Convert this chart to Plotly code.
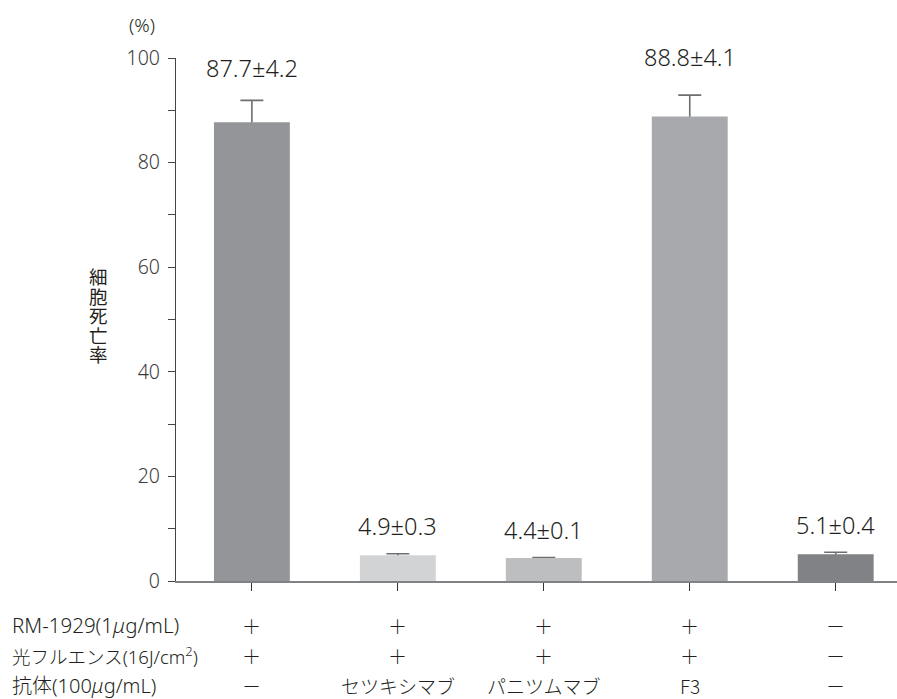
import plotly.graph_objects as go

# ---- data ----
groups = [0, 1, 2, 3, 4]
death_rate = [87.7, 4.9, 4.4, 88.8, 5.1]
death_sd = [4.2, 0.3, 0.1, 4.1, 0.4]
value_labels = ["87.7±4.2", "4.9±0.3", "4.4±0.1", "88.8±4.1", "5.1±0.4"]
label_y = [98.1, 10.5, 9.75, 100.2, 10.7]
bar_colors = ["#939598", "#d1d3d4", "#bcbec0", "#a7a9ac", "#808285"]

row_titles = ["RM-1929(1<i>μ</i>g/mL)", "光フルエンス(16J/cm<sup>2</sup>)", "抗体(100<i>μ</i>g/mL)"]
row_rm1929 = ["＋", "＋", "＋", "＋", "－"]
row_light = ["＋", "＋", "＋", "＋", "－"]
row_antibody = ["－", "セツキシマブ", "パニツムマブ", "F3", "－"]

y_title_chars = ["細", "胞", "死", "亡", "率"]
y_ticks = [0, 20, 40, 60, 80, 100]

FONT = "Noto Sans CJK JP, Noto Sans, sans-serif"
LFONT = "Noto Sans, Noto Sans CJK JP, sans-serif"
TXT = "#231f20"

W, H = 897, 699
ML, MR, MT, MB = 176, 0, 58, 118
PW = W - ML - MR
PH = H - MT - MB
Y_MAX = 100

def px_to_paper_y(py):
    return (H - MB - py) / PH

def px_to_paper_x(px):
    return (px - ML) / PW

fig = go.Figure()
# error-bar carrier (invisible bars), drawn first so the real bars hide the lower part
fig.add_trace(go.Bar(
    x=groups, y=death_rate, width=0.52,
    marker=dict(color="rgba(0,0,0,0)", line=dict(width=0)),
    error_y=dict(type="data", array=death_sd, arrayminus=[1.5] * len(death_sd),
                 symmetric=False, color="#6d6e71", thickness=1.6, width=11.5),
    hoverinfo="skip",
))
fig.add_trace(go.Bar(
    x=groups, y=death_rate, width=0.52,
    marker=dict(color=bar_colors, line=dict(width=0)),
    hoverinfo="skip",
))

ann = []
for g, lbl, ly in zip(groups, value_labels, label_y):
    ann.append(dict(x=g, y=ly / Y_MAX, xref="x", yref="paper", text=lbl, showarrow=False,
                    xanchor="center", yanchor="middle",
                    font=dict(family=LFONT, size=23.5, color=TXT, weight=300)))

rows = [row_rm1929, row_light, row_antibody]
row_py = [625, 655, 685]
row_title_sizes = [20.5, 18.5, 20]
for title, vals, py, ts in zip(row_titles, rows, row_py, row_title_sizes):
    yp = px_to_paper_y(py)
    ann.append(dict(x=px_to_paper_x(10), y=yp, xref="paper", yref="paper", text=title,
                    showarrow=False, xanchor="left", yanchor="middle",
                    font=dict(family=LFONT, size=ts, color=TXT, weight=300)))
    for g, v in zip(groups, vals):
        ann.append(dict(x=g, y=yp, xref="x", yref="paper", text=v, showarrow=False,
                        xanchor="center", yanchor="middle",
                        font=dict(family=FONT, size=19, color=TXT, weight=300)))

# unit label
ann.append(dict(x=px_to_paper_x(142), y=px_to_paper_y(25), xref="paper", yref="paper",
                text="(%)", showarrow=False, xanchor="center", yanchor="middle",
                font=dict(family=LFONT, size=19, color=TXT, weight=300)))

# vertical y-axis title
for i, ch in enumerate(y_title_chars):
    ann.append(dict(x=px_to_paper_x(98), y=px_to_paper_y(276 + 19.5 * i), xref="paper", yref="paper",
                    text=ch, showarrow=False, xanchor="center", yanchor="middle",
                    font=dict(family=FONT, size=18.5, color=TXT)))

fig.update_layout(
    width=W, height=H,
    margin=dict(l=ML, r=MR, t=MT, b=MB, pad=0),
    plot_bgcolor="white", paper_bgcolor="white",
    showlegend=False,
    barmode="overlay",
    annotations=ann,
    xaxis=dict(range=[-0.52, 4.42], tickvals=groups, showticklabels=False,
               showline=True, linecolor="#808285", linewidth=1.6,
               ticks="outside", ticklen=8, tickcolor="#333333", tickwidth=1,
               showgrid=False, zeroline=False, fixedrange=True),
    yaxis=dict(range=[0, Y_MAX], tickvals=y_ticks, showline=True, linecolor="#444444",
               linewidth=1.2, ticks="outside", ticklen=7, tickcolor="#444444", tickwidth=1,
               ticklabelstandoff=4,
               minor=dict(dtick=10, tick0=0, ticks="outside", ticklen=7, tickcolor="#444444", tickwidth=1),
               tickfont=dict(family=LFONT, size=19.5, color="#3a3a3a", weight=300),
               showgrid=False, zeroline=False, fixedrange=True),
)

fig.write_html("out.html", config={"displayModeBar": False},
               post_script="document.body.style.margin='0';document.body.style.overflow='hidden';")
